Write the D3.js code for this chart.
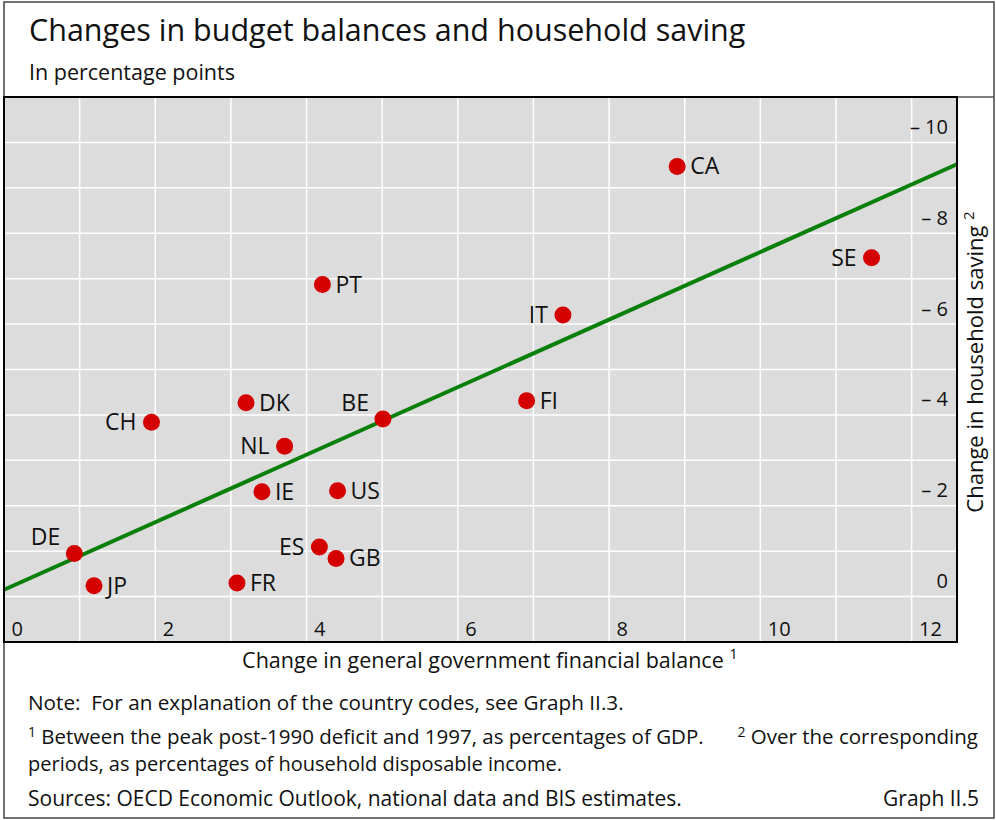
<!DOCTYPE html>
<html>
<head>
<meta charset="utf-8">
<script src="https://cdn.jsdelivr.net/npm/d3@7"></script>
<style>
  body { margin: 0; background: #fff; }
  svg text { font-family: "Open Sans", "Noto Sans", sans-serif; fill: #111; }
</style>
</head>
<body>
<div id="chart"></div>
<script>
// data (change in gov balance vs change in household saving)
const countries = ["CA", "SE", "IT", "PT", "FI", "BE", "DK", "CH", "NL", "IE", "US", "ES", "DE", "GB", "FR", "JP"];
const govBalance = [8.90, 11.47, 7.39, 4.21, 6.91, 5.01, 3.20, 1.95, 3.71, 3.41, 4.41, 4.17, 0.93, 4.39, 3.08, 1.19];
const householdSaving = [9.47, 7.46, 6.20, 6.87, 4.31, 3.91, 4.27, 3.84, 3.31, 2.31, 2.33, 1.09, 0.95, 0.84, 0.30, 0.24];

// fitted line, two end points
const trendX = [0, 12.6];
const trendY = [0.15, 9.52];

const xTicks = [0, 2, 4, 6, 8, 10, 12];
const yTicks = [0, 2, 4, 6, 8, 10];

// where each label sits relative to its dot
const labelSide = {
    CA: "right", SE: "left", IT: "left", PT: "right", FI: "right", BE: "aboveLeft",
    DK: "right", CH: "left", NL: "left", IE: "right", US: "right", ES: "left",
    DE: "aboveLeft", GB: "right", FR: "right", JP: "right"
};

const width = 996, height = 820;
const plot = { left: 4, right: 957, top: 97, bottom: 642 };

const svg = d3.select("#chart").append("svg")
    .attr("width", width)
    .attr("height", height);

// outer frame
svg.append("rect")
    .attr("x", 4).attr("y", 2)
    .attr("width", 990).attr("height", 816)
    .attr("fill", "none")
    .attr("stroke", "#444")
    .attr("stroke-width", 1.5);

// titles
svg.append("text")
    .attr("x", 29).attr("y", 41)
    .style("font-size", "30.5px")
    .text("Changes in budget balances and household saving");

svg.append("text")
    .attr("x", 29).attr("y", 80)
    .style("font-size", "21.5px")
    .text("In percentage points");

// scales
const x = d3.scaleLinear().domain([0, 12.6]).range([plot.left, plot.right]);
const y = d3.scaleLinear().domain([-1, 11]).range([plot.bottom, plot.top]);

// plot background
svg.append("rect")
    .attr("x", plot.left).attr("y", plot.top)
    .attr("width", plot.right - plot.left)
    .attr("height", plot.bottom - plot.top)
    .attr("fill", "#dcdcdc");

// grid
const g = svg.append("g");
g.selectAll(".vgrid")
    .data(d3.range(1, 13))
    .join("line")
    .attr("x1", d => x(d)).attr("x2", d => x(d))
    .attr("y1", plot.top).attr("y2", plot.bottom)
    .attr("stroke", "#fff")
    .attr("stroke-width", 1.5);

g.selectAll(".hgrid")
    .data(d3.range(0, 11))
    .join("line")
    .attr("x1", plot.left).attr("x2", plot.right)
    .attr("y1", d => y(d)).attr("y2", d => y(d))
    .attr("stroke", "#fff")
    .attr("stroke-width", 1.5);

// axes, labels drawn inside the plot
const xAxis = svg.append("g")
    .attr("transform", `translate(0,${plot.bottom})`)
    .call(d3.axisBottom(x).tickValues(xTicks).tickSize(0).tickFormat(d3.format("d")));
xAxis.select(".domain").remove();
xAxis.selectAll("text")
    .attr("text-anchor", "start")
    .attr("x", 7)
    .attr("y", -6)
    .attr("dy", 0)
    .style("font-size", "20px")
    .style("font-family", "'Open Sans', sans-serif")
    .attr("fill", "#111");

const yAxis = svg.append("g")
    .attr("transform", `translate(${plot.right},0)`)
    .call(d3.axisLeft(y).tickValues(yTicks).tickSize(0)
        .tickFormat(d => d === 0 ? "0" : "\u2013 " + d));
yAxis.select(".domain").remove();
yAxis.selectAll("text")
    .attr("x", -9)
    .attr("dy", -9)
    .style("font-size", "20px")
    .style("font-family", "'Open Sans', sans-serif")
    .attr("fill", "#111");

// trend line
const line = d3.line().x(d => x(d[0])).y(d => y(d[1]));
svg.append("path")
    .datum(d3.zip(trendX, trendY))
    .attr("d", line)
    .attr("fill", "none")
    .attr("stroke", "#0a800a")
    .attr("stroke-width", 4);

// points
const points = countries.map((c, i) => ({ code: c, gx: govBalance[i], hs: householdSaving[i] }));

svg.selectAll(".dot")
    .data(points)
    .join("circle")
    .attr("cx", d => x(d.gx))
    .attr("cy", d => y(d.hs))
    .attr("r", 8.5)
    .attr("fill", "#d40000");

svg.selectAll(".lbl")
    .data(points)
    .join("text")
    .attr("x", d => {
        const side = labelSide[d.code];
        if (side === "right") return x(d.gx) + 13;
        if (side === "left") return x(d.gx) - 15;
        return x(d.gx) - 14;
    })
    .attr("y", d => labelSide[d.code] === "aboveLeft" ? y(d.hs) - 8 : y(d.hs) + 8)
    .attr("text-anchor", d => labelSide[d.code] === "right" ? "start" : "end")
    .style("font-size", "23px")
    .text(d => d.code);

// plot border
svg.append("line")
    .attr("x1", plot.left).attr("x2", 994)
    .attr("y1", plot.top).attr("y2", plot.top)
    .attr("stroke", "#555").attr("stroke-width", 1.5);
svg.append("rect")
    .attr("x", plot.left).attr("y", plot.top)
    .attr("width", plot.right - plot.left)
    .attr("height", plot.bottom - plot.top)
    .attr("fill", "none")
    .attr("stroke", "#000")
    .attr("stroke-width", 2);

// axis titles
const xt = svg.append("text")
    .attr("x", 490).attr("y", 668)
    .attr("text-anchor", "middle")
    .style("font-size", "21.5px");
xt.append("tspan").text("Change in general government financial balance ");
xt.append("tspan").attr("dy", -9).style("font-size", "15px").text("1");

const yt = svg.append("text")
    .attr("transform", "translate(983,362) rotate(-90)")
    .attr("text-anchor", "middle")
    .style("font-size", "22px");
yt.append("tspan").text("Change in household saving ");
yt.append("tspan").attr("dy", -9).style("font-size", "15px").text("2");

// notes
const noteSize = "21px";
svg.append("text")
    .attr("x", 28).attr("y", 710)
    .attr("xml:space", "preserve")
    .style("white-space", "pre")
    .style("font-size", "20.7px")
    .text("Note:  For an explanation of the country codes, see Graph II.3.");

const fn = svg.append("text")
    .attr("x", 28).attr("y", 744)
    .style("font-size", "20.5px");
fn.append("tspan").attr("dy", -7).style("font-size", "14px").text("1");
fn.append("tspan").attr("dy", 7).text(" Between the peak post-1990 deficit and 1997, as percentages of GDP.");

const fn2 = svg.append("text")
    .attr("x", 978).attr("y", 744)
    .attr("text-anchor", "end")
    .style("font-size", "20.5px");
fn2.append("tspan").attr("dy", -7).style("font-size", "14px").text("2");
fn2.append("tspan").attr("dy", 7).text(" Over the corresponding");

svg.append("text")
    .attr("x", 28).attr("y", 771)
    .style("font-size", "20px")
    .text("periods, as percentages of household disposable income.");

svg.append("text")
    .attr("x", 28).attr("y", 806)
    .style("font-size", noteSize)
    .text("Sources: OECD Economic Outlook, national data and BIS estimates.");

svg.append("text")
    .attr("x", 979).attr("y", 806)
    .attr("text-anchor", "end")
    .style("font-size", noteSize)
    .text("Graph II.5");
</script>
</body>
</html>
